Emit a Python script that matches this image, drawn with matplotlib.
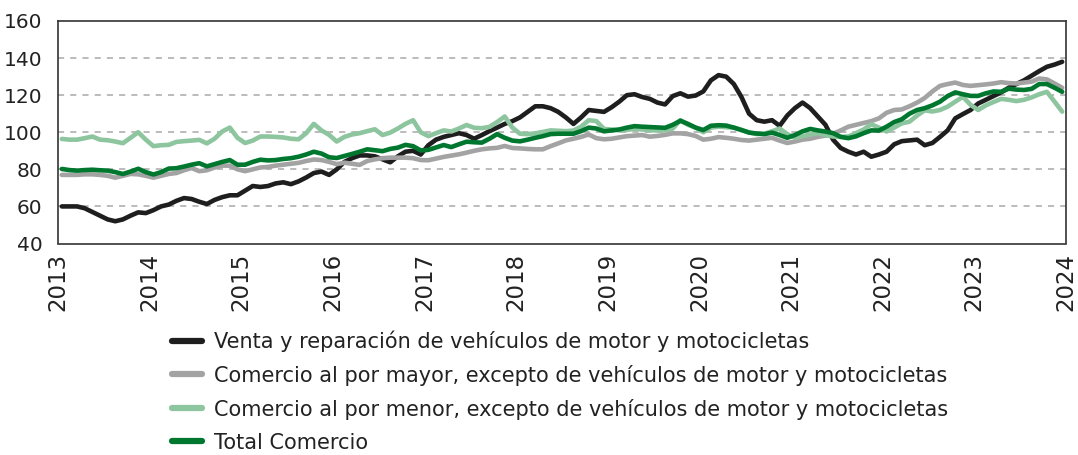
import numpy as np
import matplotlib
matplotlib.use("Agg")
import matplotlib.pyplot as plt

# monthly index values, Jan 2013 .. Dec 2023
venta = [
    60, 60, 60, 59, 57, 55, 53, 52, 53, 55, 56.8, 56.4,
    58, 60, 61, 63, 64.5, 64, 62.5, 61.3, 63.5, 65, 66, 66,
    68.5, 71, 70.5, 71, 72.4, 73, 72, 73.5, 75.6, 78, 78.8, 77,
    80, 84, 86, 87.5, 87.5, 87, 85.4, 83.8, 87, 89.5, 90, 88,
    93, 96, 97.5, 98.5, 99.5, 98.5, 96.5, 98.5, 100.6, 102.5, 104.5, 106,
    108, 111, 114, 114, 113, 111, 108, 104.5, 108, 112, 111.5, 111,
    113.5, 116.5, 120, 120.5, 119, 118, 116, 115, 119.5, 121, 119.2, 119.8,
    122, 128, 130.8, 130, 126, 119, 110, 106.5, 105.7, 106.5, 103.5, 109,
    113, 116, 113, 108.5, 104, 96, 91.5, 89.5, 88, 89.5, 86.8, 88,
    89.5, 93.5, 95.2, 95.6, 96, 93, 94.2, 97.5, 101, 107.5, 109.8, 112,
    115.5, 117.5, 119.5, 121.5, 124, 126, 128, 130.5, 133, 135.3, 136.5, 138,
]
mayor = [
    77, 77, 77, 77.3, 77.3, 77, 76.5, 75.5, 76.5, 77.5, 77.3, 76.5,
    75.5, 76.5, 77.5, 78, 79.5, 80.7, 79, 79.5, 81, 82, 82, 80,
    79, 80, 81, 81.3, 82, 82.5, 83, 83.5, 84.5, 85.3, 85, 84,
    82.8, 83.6, 83, 82.4, 84.5, 85.4, 86, 86.3, 86.3, 86.3, 86, 85,
    84.9, 85.8, 86.7, 87.4, 88.1, 89, 90, 90.8, 91.3, 91.6, 92.6, 91.5,
    91.3, 91, 90.8, 90.8, 92.5, 94, 95.6, 96.5, 97.5, 98.8, 96.8, 96.2,
    96.5, 97.2, 97.9, 98.2, 98.5, 97.6, 98, 98.6, 99.4, 99.4, 99, 98,
    96, 96.5, 97.4, 97, 96.5, 95.8, 95.5, 96, 96.5, 97, 95.5, 94.2,
    95, 96, 96.5, 97.5, 98.2, 99.2, 101, 103, 104, 105, 106, 107.5,
    110.5, 112, 112.3, 114, 116, 118.5, 122, 125, 126, 126.8, 125.5, 125,
    125.4, 125.8, 126.3, 127, 126.5, 126.3, 126.8, 127.3, 129, 128.5, 126.3, 124,
]
menor = [
    96.4, 96, 96, 96.8, 97.7, 96, 95.7, 95, 94.1, 97, 100, 96,
    92.5, 93, 93.2, 94.8, 95.2, 95.5, 95.9, 94, 96.5, 100.4, 102.5, 97,
    94.2, 95.5, 97.7, 97.7, 97.5, 97.2, 96.5, 96.2, 99.5, 104.5, 101, 98.6,
    95, 97.5, 98.8, 99.5, 100.6, 101.6, 98.5, 99.8, 102, 104.5, 106.5, 100,
    97.9, 99.5, 101, 100.4, 102, 103.9, 102.4, 102.2, 102.9, 105.5, 108.5, 102.5,
    99.2, 99, 99.4, 100.2, 101, 100.8, 100.6, 100.9, 103, 106.5, 106, 101.8,
    101.5, 101, 101.3, 101.8, 101.5, 101, 101, 101, 102, 106.5, 104, 102.5,
    100, 102.5, 103, 102.7, 102.5, 101.2, 100, 99, 99.2, 100.5, 102, 99,
    97, 97.8, 98.8, 99.5, 98.5, 97.7, 97.5, 97.7, 99.5, 101.5, 104.3, 102.5,
    100.4, 102.5, 104.8, 105.7, 109, 111.8, 111.2, 112, 113.8, 116.5, 119.1, 114.8,
    112, 114.5, 116.3, 118, 117.5, 116.8, 117.5, 118.8, 120.5, 121.8, 116.5, 111.1,
]
total = [
    80.2, 79.6, 79.3, 79.6, 79.8, 79.5, 79.3, 78.5, 77.5, 78.8, 80.3, 78.5,
    77.2, 78.5, 80.4, 80.6, 81.5, 82.5, 83.3, 81.6, 82.8, 84, 85, 82.5,
    82.5, 84, 85.2, 84.8, 85, 85.6, 86, 86.8, 88, 89.5, 88.5, 86.5,
    86.1, 87.2, 88.3, 89.5, 90.8, 90.3, 89.8, 91, 91.7, 93.2, 92.5, 90.2,
    90.5, 91.8, 93.1, 92, 93.5, 94.9, 94.6, 94.4, 96.5, 99, 97, 95.5,
    95.1, 96, 97, 97.9, 99, 99.2, 99.2, 99.2, 100.6, 102.5, 102, 100.5,
    101, 101.5, 102.5, 103.3, 103, 102.8, 102.6, 102.4, 104, 106.2, 104.5, 102.5,
    101.2, 103.5, 103.8, 103.6, 102.5, 101.2, 99.8, 99.3, 99, 99.8, 98.5, 97,
    98.5, 100.5, 101.8, 101, 100.4, 99.5, 97.5, 96.8, 97.8, 99.5, 101, 100.9,
    103, 105.5, 107, 110, 112, 113, 114.5, 116.5, 119.5, 121.5, 120.5, 119.6,
    119.6, 121, 122, 121.8, 123.5, 123, 122.8, 123.4, 126, 126, 124, 121.8,
]
years = list(range(2013, 2025))

labels = [
    "Venta y reparación de vehículos de motor y motocicletas",
    "Comercio al por mayor, excepto de vehículos de motor y motocicletas",
    "Comercio al por menor, excepto de vehículos de motor y motocicletas",
    "Total Comercio",
]
colors = ["#1e1e1e", "#a3a3a3", "#8dc59e", "#00772f"]

# mid-month positions
x = 2013 + (np.arange(len(total)) + 0.5) / 12

fig = plt.figure(figsize=(10.78, 4.55), dpi=100)
ax = fig.add_axes([58 / 1078, 1 - 243.5 / 455, 1008 / 1078, 222.5 / 455])

for series, lab, col in zip([venta, mayor, menor, total], labels, colors):
    ax.plot(x, series, color=col, lw=3.3, label=lab,
            solid_capstyle="round", solid_joinstyle="round")

ax.set_xlim(2013, 2024)
ax.set_ylim(40, 160)
ax.set_yticks(range(40, 161, 20))
ax.set_xticks(years)
ax.set_xticklabels([str(y) for y in years], rotation=90, va="top")

for v in range(60, 160, 20):
    ax.axhline(v, color="#a8a8a8", lw=1.1, ls=(0, (4, 4)), zorder=0)

for s in ax.spines.values():
    s.set_color("#333333")
    s.set_linewidth(1.2)

ax.tick_params(axis="y", length=0, pad=11, labelsize=14.5, labelcolor="#222222")
ax.tick_params(axis="x", length=0, pad=7, labelsize=16.5, labelcolor="#222222")

handles, labs = ax.get_legend_handles_labels()
leg = fig.legend(handles, labs, loc="upper left",
                 bbox_to_anchor=(164 / 1078, 1 - 322 / 455),
                 frameon=False, fontsize=15, handlelength=1.4,
                 handletextpad=0.6, labelspacing=0.62, borderaxespad=0)
for h in leg.get_lines():
    h.set_linewidth(4.5)
    h.set_solid_capstyle("round")
for t in leg.get_texts():
    t.set_color("#222222")

fig.savefig("out.png", dpi=100)
